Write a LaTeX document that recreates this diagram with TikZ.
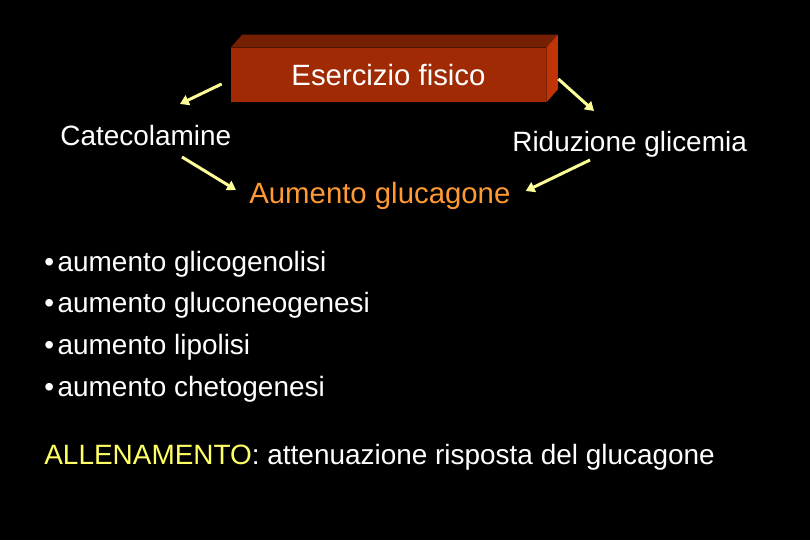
\documentclass[tikz,border=0pt]{standalone}
\usepackage{fontspec}
\setmainfont{Liberation Sans}
\usetikzlibrary{arrows.meta}
\definecolor{exfront}{HTML}{A02A04}
\definecolor{extop}{HTML}{762003}
\definecolor{exside}{HTML}{C03406}
\definecolor{exarrow}{HTML}{FFFF99}
\definecolor{exorange}{HTML}{FF9933}
\definecolor{exyellow}{HTML}{FFFF66}

\begin{document}
\begin{tikzpicture}[
            txt/.style={anchor=base west, inner sep=0pt, text=white, font=\fontsize{15.9}{19}\selectfont},
            big/.style={font=\fontsize{16.7}{20}\selectfont},
            arrow/.style={-{Triangle[length=5pt,width=6pt]}, line width=1.7pt, exarrow}
        ]
            % Background
            \fill[black] (0,0) rectangle (16.2,10.8);

            % Exercise box
            \node[fill=exfront, minimum width=6.3cm, minimum height=1.08cm, inner sep=0pt, text=white, big] (box) at (7.77,9.30) {Esercizio fisico};
            \fill[extop] (box.north west) -- ++(0.23,0.26) -- ([shift={(0.23,0.26)}]box.north east) -- (box.north east) -- cycle;
            \fill[exside] (box.north east) -- ++(0.23,0.26) -- ([shift={(0.23,0.26)}]box.south east) -- (box.south east) -- cycle;

            % Effects
            \node[txt] (cat) at (1.20,7.88) {Catecolamine};
            \node[txt] (rid) at (10.24,7.76) {Riduzione glicemia};
            \node[txt, big, text=exorange] (aum) at (4.98,6.72) {Aumento glucagone};

            % Arrows
            \draw[arrow] ([shift={(-0.18,-0.18)}]box.west) -- ([shift={(2.40,0.84)}]cat.base west);
            \draw[arrow] ([shift={(0.24,-0.08)}]box.east) -- ([shift={(1.64,0.82)}]rid.base west);
            \draw[arrow] ([shift={(2.44,-0.22)}]cat.base west) -- ([shift={(-0.26,0.28)}]aum.base west);
            \draw[arrow] ([shift={(1.56,-0.16)}]rid.base west) -- ([shift={(0.30,0.26)}]aum.base east);

            % Consequences
            \node[txt] (b1) at (0.88,5.36) {•\hspace{2pt}aumento glicogenolisi};
            \node[txt] (b2) at (0.88,4.54) {•\hspace{2pt}aumento gluconeogenesi};
            \node[txt] (b3) at (0.88,3.70) {•\hspace{2pt}aumento lipolisi};
            \node[txt] (b4) at (0.88,2.86) {•\hspace{2pt}aumento chetogenesi};

            % Training
            \node[txt] (all) at (0.88,1.50) {\textcolor{exyellow}{ALLENAMENTO}: attenuazione risposta del glucagone};
        \end{tikzpicture}
\end{document}
